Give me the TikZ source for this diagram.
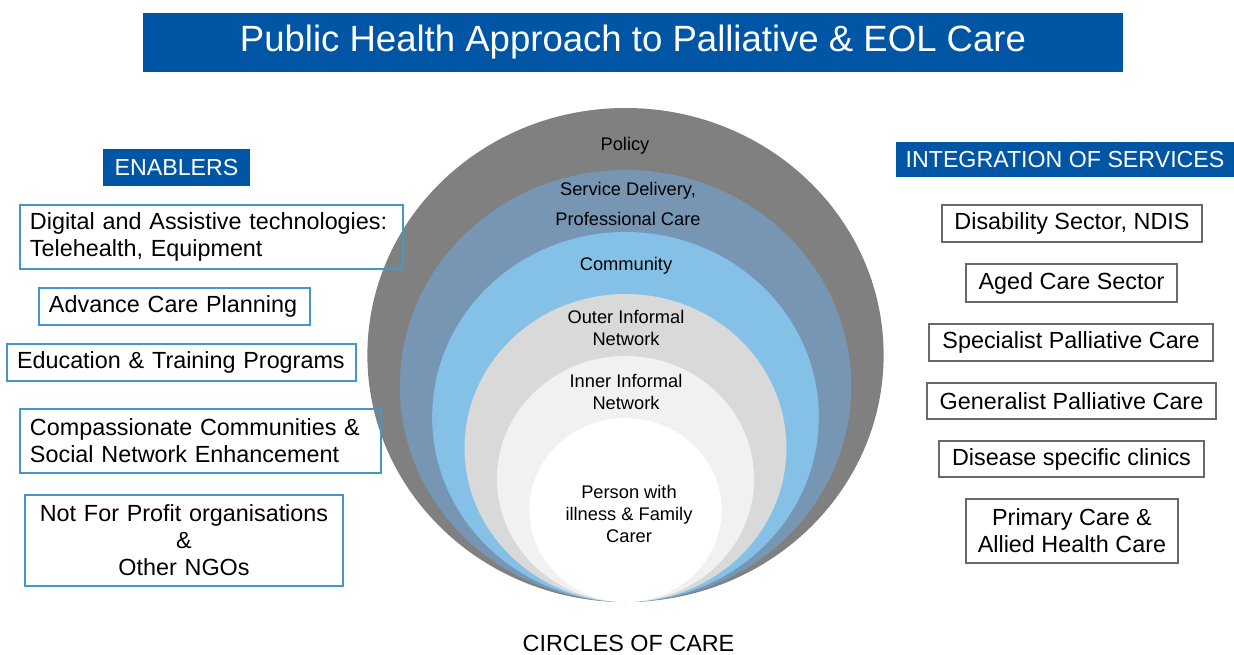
\documentclass[tikz,border=0pt]{standalone}
\usepackage{fontspec}
\setmainfont{Liberation Sans}
\usepackage{tikz}
\usetikzlibrary{calc, positioning}
\definecolor{bannerblue}{RGB}{0,85,165}
\definecolor{policygray}{RGB}{128,128,128}
\definecolor{servicesteel}{RGB}{118,150,180}
\definecolor{communityblue}{RGB}{133,193,230}
\definecolor{outergray}{RGB}{217,217,217}
\definecolor{innergray}{RGB}{241,241,241}
\definecolor{enablerline}{RGB}{70,150,200}
\definecolor{serviceline}{RGB}{105,105,105}
\newcommand{\px}{0.02cm}
\tikzstyle{banner} = [fill=bannerblue, text=white, inner sep=0pt]
\tikzstyle{enabler} = [draw=enablerline, line width=0.7pt, inner sep=0pt, inner xsep=10*\px, font=\fontsize{13.3}{15.3}\selectfont]
\tikzstyle{service} = [draw=serviceline, line width=0.6pt, inner sep=0pt, align=center, font=\fontsize{13.3}{15.3}\selectfont]
\tikzstyle{ring} = [align=center, inner sep=0pt, font=\fontsize{10.4}{12.6}\selectfont]

\begin{document}
\begin{tikzpicture}[x=\px, y=-\px, node distance = 10mm, auto]
	\useasboundingbox (0,0) rectangle (1234,655);
	% title and headings
	\node (Title) [banner, minimum width=980*\px, minimum height=59*\px, font=\fontsize{20.8}{24}\selectfont] at (633,42.5) {Public Health Approach to Palliative \& EOL Care};
	\node (Enablers) [banner, minimum width=147*\px, minimum height=37*\px, font=\fontsize{13.2}{15}\selectfont] at (176.5,167.5) {ENABLERS};
	\node (Integration) [banner, minimum width=338*\px, minimum height=35*\px, font=\fontsize{13.2}{15}\selectfont] at (1065,159.5) {INTEGRATION OF SERVICES};

	% circles of care
	\foreach \r/\c in {247/policygray, 216/servicesteel, 185/communityblue, 154/outergray, 123/innergray, 92/white}
		\fill[\c] (625.5,602-\r) ellipse [x radius=1.045*\r*\px, y radius=\r*\px];
	\node (Policy) [ring] at (625,146) {Policy};
	\node (ServiceDelivery) [ring] at (628,204) {Service Delivery,\\[4.5pt]Professional Care};
	\node (Community) [ring] at (626,266) {Community};
	\node (OuterNetwork) [ring] at (626,328) {Outer Informal\\Network};
	\node (InnerNetwork) [ring] at (626,392) {Inner Informal\\Network};
	\node (Person) [ring] at (629,514) {Person with\\illness \& Family\\Carer};
	\node (CirclesCaption) [font=\fontsize{13.3}{15.3}\selectfont] at (628.5,643) {CIRCLES OF CARE};

	% enablers
	\node (Digital) [enabler, text width=363*\px, minimum height=64*\px, align=left] at (211.5,237) {Digital and Assistive technologies:\\Telehealth, Equipment};
	\node (Planning) [enabler, text width=251*\px, minimum height=37*\px, align=left] at (174.5,306.5) {Advance Care Planning};
	\node (Education) [enabler, text width=329*\px, minimum height=37*\px, align=left] at (181.5,362.5) {Education \& Training Programs};
	\node (Compassionate) [enabler, text width=341*\px, minimum height=64*\px, align=left] at (200.5,441) {Compassionate Communities \&\\Social Network Enhancement};
	\node (NotForProfit) [enabler, text width=298*\px, minimum height=91*\px, align=center] at (184,540.5) {Not For Profit organisations\\\&\\Other NGOs};

	% services
	\node (Disability) [service, minimum width=260*\px, minimum height=37*\px] at (1072,223.5) {Disability Sector, NDIS};
	\node (AgedCare) [service, minimum width=211*\px, minimum height=38*\px] at (1071.5,283) {Aged Care Sector};
	\node (Specialist) [service, minimum width=284*\px, minimum height=37*\px] at (1071,342.5) {Specialist Palliative Care};
	\node (Generalist) [service, minimum width=289*\px, minimum height=36*\px] at (1071.5,401) {Generalist Palliative Care};
	\node (Disease) [service, minimum width=265*\px, minimum height=36*\px] at (1071.5,459) {Disease specific clinics};
	\node (Primary) [service, minimum width=212*\px, minimum height=64*\px] at (1072,531) {Primary Care \&\\Allied Health Care};
\end{tikzpicture}
\end{document}
